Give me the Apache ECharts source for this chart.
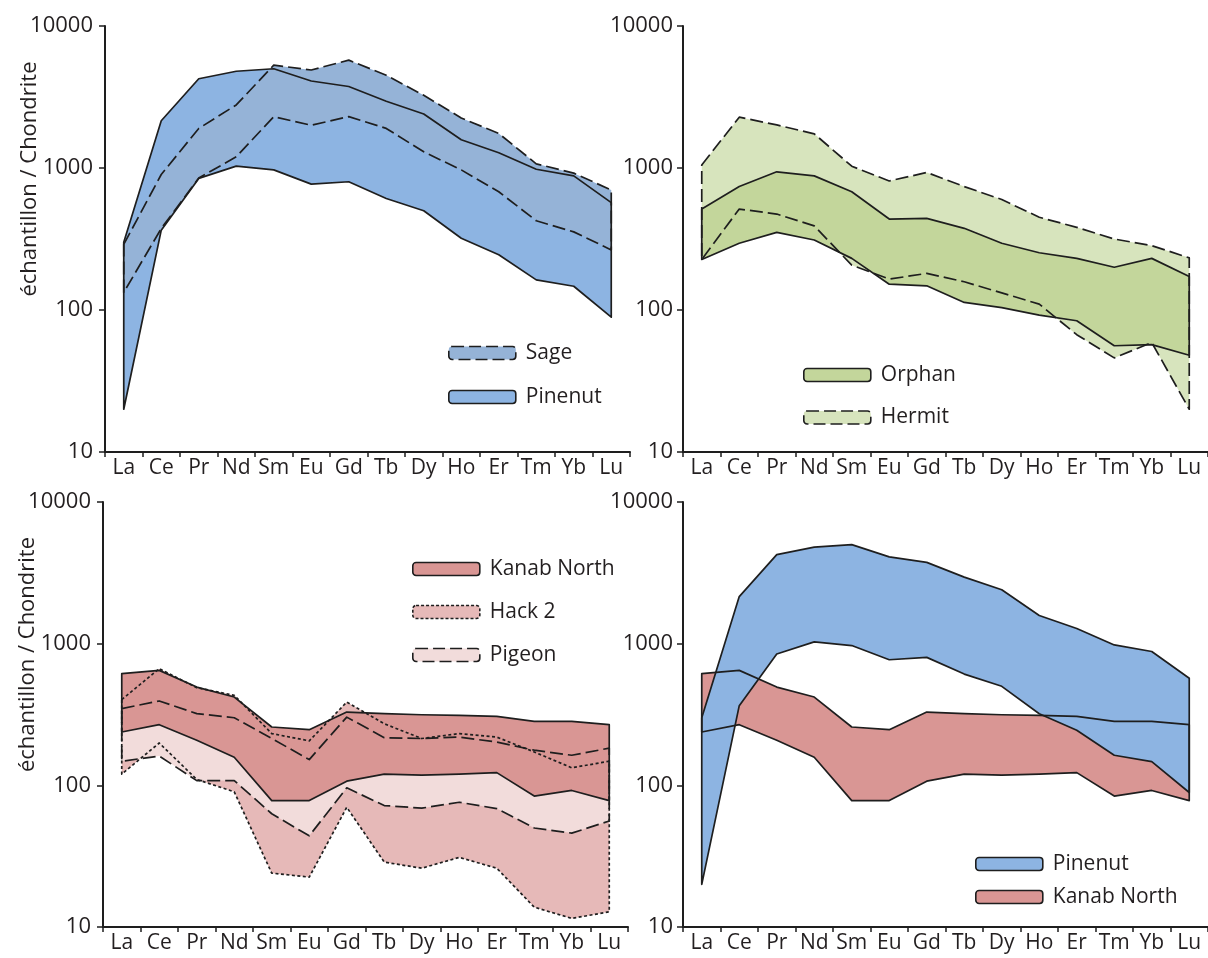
<!DOCTYPE html>
<html>
<head>
<meta charset="utf-8">
<script src="https://cdn.jsdelivr.net/npm/echarts@6/dist/echarts.min.js"></script>
<style>
html,body{margin:0;padding:0;background:#fff;}
#chart{width:1208px;height:958px;}
</style>
</head>
<body>
<div id="chart"></div>
<script>
const CATEGORIES = ['La','Ce','Pr','Nd','Sm','Eu','Gd','Tb','Dy','Ho','Er','Tm','Yb','Lu'];
const Y_TICK_LABELS = ['10','100','1000','10000'];
const Y_NAME = 'échantillon / Chondrite';

// Panel 1 & 4
const pinenutUpper = [300, 2150, 4250, 4800, 5000, 4100, 3750, 2950, 2400, 1580, 1280, 980, 880, 570];
const pinenutLower = [20, 365, 845, 1030, 970, 770, 800, 610, 500, 320, 245, 163, 147, 89];
const sageUpper = [290, 900, 1900, 2780, 5300, 4900, 5750, 4500, 3250, 2250, 1750, 1070, 920, 700];
const sageLower = [133, 375, 850, 1200, 2300, 2000, 2300, 1900, 1300, 970, 680, 425, 355, 265];
// Panel 2
const orphanUpper = [515, 740, 940, 880, 680, 437, 442, 376, 295, 253, 231, 200, 231, 172];
const orphanLower = [227, 295, 352, 311, 231, 152, 148, 113, 104, 92, 84, 56, 57, 48];
const hermitUpper = [1050, 2280, 2010, 1740, 1030, 810, 930, 740, 600, 450, 382, 316, 284, 233];
const hermitLower = [227, 514, 474, 391, 207, 165, 181, 158, 132, 110, 67, 46, 59, 20];
// Panel 3 & 4
const kanabUpper = [614, 648, 494, 420, 258, 247, 329, 321, 315, 312, 307, 283, 283, 268];
const kanabLower = [238, 268, 208, 158, 78, 78, 107, 120, 118, 120, 123, 84, 92, 78];
const hack2Upper = [403, 666, 489, 432, 232, 206, 387, 272, 214, 232, 219, 172, 133, 148];
const hack2Lower = [120, 199, 110, 90, 24, 22.5, 70, 28.7, 26, 31, 26, 13.8, 11.5, 12.8];
const pigeonUpper = [348, 394, 321, 300, 214, 152, 303, 217, 214, 219, 202, 177, 163, 183];
const pigeonLower = [148, 161, 108, 108, 63, 44, 96, 72, 69, 76, 68.5, 50, 46, 56];

const FONT = "'Open Sans', 'Noto Sans', sans-serif";
const TXT = '#231F20';
const LINE = '#1E1E1E';
const SOLID = 'solid', DASH = [13, 5], DOT = [3, 2.5];

const COL = {
  pinenut: '#8DB4E2', sage: '#95B3D7',
  orphan: '#C3D69B', hermit: '#D7E4BD',
  kanab: '#D99694', hack2: '#E6B9B8', pigeon: '#F2DCDB'
};

const grids = [
  {left: 105, top: 26, width: 525, height: 426},
  {left: 683, top: 26, width: 525, height: 426},
  {left: 103, top: 502, width: 525, height: 425},
  {left: 683, top: 502, width: 525, height: 425}
];

const xAxes = grids.map((g, i) => ({
  type: 'category', gridIndex: i, data: CATEGORIES, boundaryGap: true,
  axisLine: {lineStyle: {color: LINE, width: 2}},
  axisTick: {show: true, length: 5, lineStyle: {color: LINE, width: 1.5}, alignWithLabel: false},
  axisLabel: {interval: 0, color: TXT, fontSize: 21, fontFamily: FONT, margin: 6},
  splitLine: {show: false}
}));

const yAxes = grids.map((g, i) => ({
  type: 'log', logBase: 10, gridIndex: i, min: 10, max: 10000,
  name: (i % 2 === 0) ? Y_NAME : '',
  nameLocation: 'middle', nameGap: 64, nameMoveOverlap: false,
  nameTextStyle: {color: TXT, fontSize: 22, fontFamily: FONT, padding: [0, 0, 0, 120]},
  axisLine: {show: true, lineStyle: {color: LINE, width: 2}},
  axisTick: {show: true, length: 6, lineStyle: {color: LINE, width: 1.5}},
  minorTick: {show: false},
  axisLabel: {
    color: TXT, fontSize: 22, fontFamily: FONT, margin: (i % 2 === 0) ? 12 : 10,
    formatter: v => Y_TICK_LABELS[Math.round(Math.log10(v)) - 1] || ''
  },
  splitLine: {show: false}
}));

function bandSeries(name, gi, upper, lower, fill, dash, role) {
  const data = CATEGORIES.map((c, i) => [i, lower[i], upper[i]]);
  return {
    type: 'custom', name: role === 'fill' ? name : name + ' (contour)',
    xAxisIndex: gi, yAxisIndex: gi,
    z: role === 'fill' ? 2 : 3,
    silent: true,
    encode: {x: 0, y: [1, 2]},
    data: data,
    renderItem: function (params, api) {
      if (params.dataIndex !== 0) return null;
      const pts = [];
      for (let i = 0; i < data.length; i++) pts.push(api.coord([data[i][0], data[i][2]]));
      for (let i = data.length - 1; i >= 0; i--) pts.push(api.coord([data[i][0], data[i][1]]));
      const style = role === 'fill'
        ? {fill: fill, stroke: null}
        : {fill: null, stroke: LINE, lineWidth: 1.7, lineDash: dash === SOLID ? null : dash, lineJoin: 'round'};
      return {type: 'polygon', shape: {points: pts}, style: style};
    }
  };
}

const bands = [
  // [name, grid, upper, lower, color, dash]
  ['Pinenut', 0, pinenutUpper, pinenutLower, COL.pinenut, SOLID],
  ['Sage', 0, sageUpper, sageLower, COL.sage, DASH],
  ['Hermit', 1, hermitUpper, hermitLower, COL.hermit, DASH],
  ['Orphan', 1, orphanUpper, orphanLower, COL.orphan, SOLID],
  ['Hack 2', 2, hack2Upper, hack2Lower, COL.hack2, DOT],
  ['Pigeon', 2, pigeonUpper, pigeonLower, COL.pigeon, DASH],
  ['Kanab North', 2, kanabUpper, kanabLower, COL.kanab, SOLID],
  ['Kanab North', 3, kanabUpper, kanabLower, COL.kanab, SOLID],
  ['Pinenut', 3, pinenutUpper, pinenutLower, COL.pinenut, SOLID]
];

const series = [];
bands.forEach(b => series.push(bandSeries(b[0], b[1], b[2], b[3], b[4], b[5], 'fill')));
bands.forEach(b => series.push(bandSeries(b[0], b[1], b[2], b[3], b[4], b[5], 'line')));

function legendItem(name, color, dash) {
  return {
    name: name, icon: 'roundRect',
    itemStyle: {color: color, borderColor: LINE, borderWidth: 1.6,
      borderType: dash === SOLID ? 'solid' : (dash === DOT ? [3, 2] : [12, 5])}
  };
}
function legend(items, left, top, gap) {
  return {
    orient: 'vertical', left: left, top: top, padding: 0,
    itemWidth: 67, itemHeight: 13, itemGap: gap, selectedMode: false,
    textStyle: {color: TXT, fontSize: 21, fontFamily: FONT, lineHeight: 24, padding: [0, 0, 0, 5]},
    data: items
  };
}

const option = {
  animation: false,
  backgroundColor: '#ffffff',
  grid: grids,
  xAxis: xAxes,
  yAxis: yAxes,
  legend: [
    legend([legendItem('Sage', COL.sage, DASH), legendItem('Pinenut', COL.pinenut, SOLID)], 448, 341, 20),
    legend([legendItem('Orphan', COL.orphan, SOLID), legendItem('Hermit', COL.hermit, DASH)], 803, 363, 18.5),
    legend([legendItem('Kanab North', COL.kanab, SOLID), legendItem('Hack 2', COL.hack2, DOT), legendItem('Pigeon', COL.pigeon, DASH)], 412, 557, 19),
    legend([legendItem('Pinenut', COL.pinenut, SOLID), legendItem('Kanab North', COL.kanab, SOLID)], 975, 852, 9)
  ],
  series: series
};

const chart = echarts.init(document.getElementById('chart'), null, {renderer: 'canvas'});
chart.setOption(option);
</script>
</body>
</html>
